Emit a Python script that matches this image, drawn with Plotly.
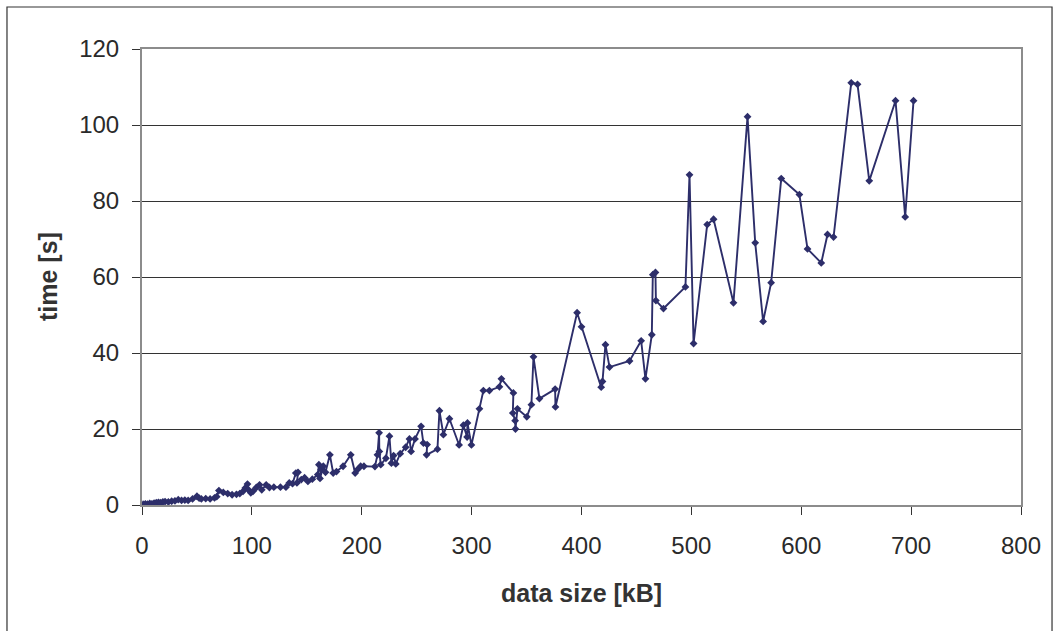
import plotly.graph_objects as go

# data size [kB]
data_size = [1, 3, 5, 7, 9, 11, 13, 15, 17, 19, 21, 24, 27, 30, 33, 36, 39, 42, 46, 50,
             52, 54, 58, 62, 66, 68, 70, 74, 78, 82, 86, 89, 92, 94, 96, 97, 99, 101, 104, 107,
             109, 113, 116, 120, 126, 131, 134, 137, 140, 142, 141, 145, 148, 151, 155, 160, 161, 163, 162, 165,
             167, 171, 174, 177, 183, 190, 194, 196, 199, 202, 212, 214.3, 215.8, 216.0, 217.3, 222, 225.2, 227, 229, 231,
             235, 240, 243.4, 244.9, 248.5, 254.0, 256.1, 259.5, 259, 268.9, 270.7, 274.3, 279.8, 288.6, 292.5, 295.9, 296.2, 299.8,
             307.1, 310.7, 316.2, 325.3, 327.1, 338.0, 337.5, 339.6, 339.9, 341.7, 350.2, 354.4, 356.3, 361.7, 376.0, 376.3,
             396.0, 400.0, 417.9, 419.1, 421.8, 425.5, 443.7, 454.3, 458.2, 464.0, 464.9, 467.3, 467.7, 474.6, 494.6, 498.3,
             502.0, 514.4, 520.2, 538.3, 551.1, 558.1, 565.3, 572.6, 581.8, 598.3, 605.7, 618.2, 623.9, 629.4, 645.5, 651.2,
             661.9, 685.8, 694.6, 702.2]
# time [s]
time_s = [0.2, 0.3, 0.2, 0.4, 0.3, 0.5, 0.6, 0.7, 0.6, 0.8, 0.9, 0.8, 1.0, 1.1, 1.4, 1.2, 1.3, 1.2, 1.6, 2.3,
          1.8, 1.6, 1.7, 1.6, 1.9, 2.2, 3.8, 3.3, 3.0, 2.7, 2.8, 3.0, 3.6, 4.5, 5.5, 4.0, 3.2, 3.6, 4.6, 5.3,
          4.0, 5.3, 4.6, 4.7, 4.7, 4.7, 5.8, 5.6, 8.4, 8.6, 5.8, 6.7, 7.2, 6.2, 6.8, 8.0, 10.6, 9.3, 7.0, 10.2,
          8.6, 13.2, 8.4, 8.8, 10.2, 13.2, 8.4, 9.3, 10.2, 10.2, 10.1, 13.2, 19.0, 14.1, 10.6, 12.3, 18.1, 11.0, 13.0, 10.8,
          13.5, 15.2, 17.4, 14.1, 17.4, 20.7, 16.3, 15.9, 13.2, 14.7, 24.8, 18.5, 22.7, 15.8, 21.0, 17.9, 21.6, 15.8,
          25.3, 30.1, 30.1, 31.1, 33.2, 29.5, 24.2, 22.2, 20.0, 25.3, 23.2, 26.4, 39.0, 28.0, 30.5, 25.8,
          50.6, 46.9, 31.0, 32.5, 42.2, 36.3, 37.9, 43.2, 33.2, 44.8, 60.6, 61.2, 53.8, 51.7, 57.4, 86.9,
          42.5, 73.8, 75.2, 53.2, 102.2, 69.0, 48.3, 58.5, 85.9, 81.7, 67.4, 63.7, 71.2, 70.5, 111.1, 110.7,
          85.3, 106.4, 75.8, 106.4]

x_ticks = [0, 100, 200, 300, 400, 500, 600, 700, 800]
y_ticks = [0, 20, 40, 60, 80, 100, 120]

navy = "#2D2E6A"
font_family = "Liberation Sans, Arial, sans-serif"

fig = go.Figure()
fig.add_trace(go.Scatter(
    x=data_size, y=time_s, mode="lines+markers",
    line=dict(color=navy, width=1.9),
    marker=dict(symbol="diamond", size=6, color=navy),
    showlegend=False, hoverinfo="x+y",
))

fig.update_layout(
    width=1059, height=631, autosize=False,
    margin=dict(l=142, r=38, t=49, b=126),
    paper_bgcolor="white", plot_bgcolor="white",
    font=dict(family=font_family, color="#2a2a2a"),
    xaxis=dict(
        range=[0, 800], tickvals=x_ticks, ticktext=[str(v) for v in x_ticks],
        showgrid=False, zeroline=False, showline=True, linecolor="#8C8C8C", linewidth=2,
        mirror=True, ticks="outside", ticklen=8, tickcolor="#333333", tickwidth=1,
        tickfont=dict(size=24, family=font_family, color="#2a2a2a"),
        ticklabelstandoff=10, automargin=False, fixedrange=True,
    ),
    yaxis=dict(
        range=[0, 120], tickvals=y_ticks, ticktext=[str(v) for v in y_ticks],
        showgrid=True, gridcolor="#333333", gridwidth=1,
        zeroline=False, showline=True, linecolor="#8C8C8C", linewidth=2,
        mirror=True, ticks="outside", ticklen=8, tickcolor="#333333", tickwidth=1,
        tickfont=dict(size=24, family=font_family, color="#2a2a2a"),
        ticklabelstandoff=8, automargin=False, fixedrange=True,
    ),
    annotations=[
        dict(text="<b>time [s]</b>", xref="paper", yref="paper", x=0, y=0.5,
             xshift=-94, textangle=-90, showarrow=False, xanchor="center", yanchor="middle",
             font=dict(size=25, family=font_family, color="#333333")),
        dict(text="<b>data size [kB]</b>", xref="paper", yref="paper", x=0.5, y=0,
             yshift=-88, showarrow=False, xanchor="center", yanchor="middle",
             font=dict(size=25, family=font_family, color="#333333")),
    ],
    shapes=[
        dict(type="rect", xref="paper", yref="paper",
             x0=-0.1536, x1=1.0353, y0=-0.30, y1=1.0921,
             line=dict(color="#333333", width=1.2), fillcolor="rgba(0,0,0,0)", layer="below"),
    ],
)

fig.write_html("out.html")
